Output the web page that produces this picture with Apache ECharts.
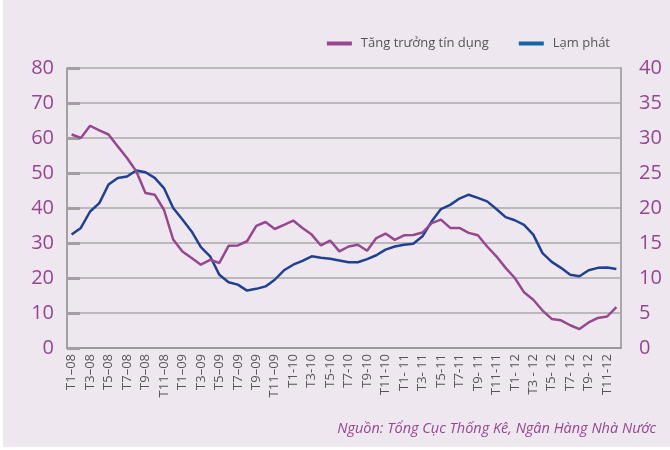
<!DOCTYPE html>
<html>
<head>
<meta charset="utf-8">
<script src="https://cdn.jsdelivr.net/npm/echarts@6/dist/echarts.min.js"></script>
<style>
  html, body { margin: 0; padding: 0; background: #ffffff; }
  #chart { position: absolute; left: 3px; top: 0; width: 667px; height: 447px; }
</style>
</head>
<body>
<div id="chart"></div>
<script>
// month labels, only every second one is shown on the axis
var months = [
  'T1–08','T2–08','T3–08','T4–08','T5–08','T6–08','T7–08','T8–08','T9–08','T10–08','T11–08','T12–08',
  'T1–09','T2–09','T3–09','T4–09','T5–09','T6–09','T7–09','T8–09','T9–09','T10–09','T11–09','T12–09',
  'T1-10','T2-10','T3-10','T4-10','T5-10','T6-10','T7-10','T8-10','T9-10','T10-10','T11-10','T12-10',
  'T1- 11','T2- 11','T3- 11','T4- 11','T5-11','T6-11','T7-11','T8-11','T9- 11','T10-11','T11-11','T12-11',
  'T1- 12','T2- 12','T3 - 12','T4 - 12','T5- 12','T6- 12','T7- 12','T8- 12','T9- 12','T10-12','T11-12','T12-12'
];

// Tăng trưởng tín dụng (%), left axis
var creditGrowth = [
  61, 60, 63.5, 62.2, 61, 57.6, 54.3, 50.5, 44.3, 43.8, 39.5, 31,
  27.6, 25.7, 23.8, 25.2, 24.3, 29.2, 29.3, 30.5, 34.9, 36, 34, 35.2,
  36.4, 34.3, 32.4, 29.3, 30.7, 27.6, 29, 29.5, 27.8, 31.4, 32.7, 30.9,
  32.2, 32.3, 33, 35.7, 36.7, 34.3, 34.3, 32.9, 32.2, 29, 26.2, 22.9,
  20, 15.9, 13.8, 10.7, 8.3, 7.9, 6.5, 5.4, 7.3, 8.6, 9.0, 11.7
];

// Lạm phát (%), right axis
var inflation = [
  16.2, 17.15, 19.5, 20.7, 23.35, 24.3, 24.5, 25.35, 25.1, 24.3, 22.85, 20,
  18.35, 16.65, 14.4, 13.1, 10.45, 9.4, 9.05, 8.2, 8.45, 8.8, 9.75, 11.1,
  11.9, 12.45, 13.1, 12.9, 12.75, 12.5, 12.25, 12.25, 12.7, 13.25, 14.05, 14.5,
  14.75, 14.9, 15.95, 18.1, 19.85, 20.45, 21.35, 21.9, 21.45, 20.95, 19.85, 18.7,
  18.25, 17.6, 16.2, 13.55, 12.3, 11.45, 10.45, 10.25, 11.1, 11.45, 11.5, 11.3
];

var seriesNames = ['Tăng trưởng tín dụng', 'Lạm phát'];
var sourceText = 'Nguồn: Tổng Cục Thống Kê, Ngân Hàng Nhà Nước';

var purple = '#96488f';
var blue = '#20418f';
var labelPurple = '#94468f';

var chart = echarts.init(document.getElementById('chart'));

var option = {
    backgroundColor: '#eee7ef',
    animation: false,
    textStyle: { fontFamily: 'Open Sans' },
    legend: {
        top: 32,
        right: 55,
        itemWidth: 25,
        itemHeight: 4,
        itemGap: 30,
        icon: 'rect',
        textStyle: { color: '#555555', fontSize: 13, fontFamily: 'Open Sans', padding: [0, 0, 0, 4] },
        data: [
            { name: seriesNames[0], itemStyle: { color: purple } },
            { name: seriesNames[1], itemStyle: { color: '#1464a8' } }
        ]
    },
    grid: {
        left: 64,
        right: 49,
        top: 68,
        bottom: 99,
        show: false
    },
    xAxis: {
        type: 'category',
        data: months,
        boundaryGap: true,
        axisLine: { show: true, lineStyle: { color: '#999999', width: 2 } },
        axisTick: { show: false },
        axisLabel: {
            interval: 1,
            rotate: 90,
            margin: 6,
            color: '#555555',
            fontSize: 13,
            fontFamily: 'Open Sans'
        },
        splitLine: { show: false }
    },
    yAxis: [
        {
            type: 'value',
            min: 0,
            max: 80,
            interval: 10,
            position: 'left',
            axisLine: { show: true, lineStyle: { color: '#888888', width: 1.5 } },
            axisTick: { show: true, inside: true, length: 13, lineStyle: { color: '#a0a0a0', width: 3 } },
            axisLabel: { color: labelPurple, fontSize: 20, margin: 13, fontFamily: 'Open Sans' },
            splitLine: { show: true, lineStyle: { color: '#a8a8a8', width: 1.5 } }
        },
        {
            type: 'value',
            min: 0,
            max: 40,
            interval: 5,
            position: 'right',
            axisLine: { show: true, lineStyle: { color: '#a8a8a8', width: 2 } },
            axisTick: { show: false },
            axisLabel: { color: labelPurple, fontSize: 20, margin: 18, fontFamily: 'Open Sans' },
            splitLine: { show: false }
        }
    ],
    series: [
        {
            name: seriesNames[0],
            type: 'line',
            yAxisIndex: 0,
            data: creditGrowth,
            symbol: 'none',
            lineStyle: { color: purple, width: 2.5 },
            itemStyle: { color: purple },
            z: 3
        },
        {
            name: seriesNames[1],
            type: 'line',
            yAxisIndex: 1,
            data: inflation,
            symbol: 'none',
            lineStyle: { color: blue, width: 2.5 },
            itemStyle: { color: blue },
            z: 2
        }
    ],
    graphic: [
        {
            type: 'text',
            right: 14,
            top: 421,
            style: {
                text: sourceText,
                fill: labelPurple,
                fontSize: 14.5,
                fontStyle: 'italic',
                fontFamily: 'Open Sans'
            }
        }
    ]
};

chart.setOption(option);
</script>
</body>
</html>
